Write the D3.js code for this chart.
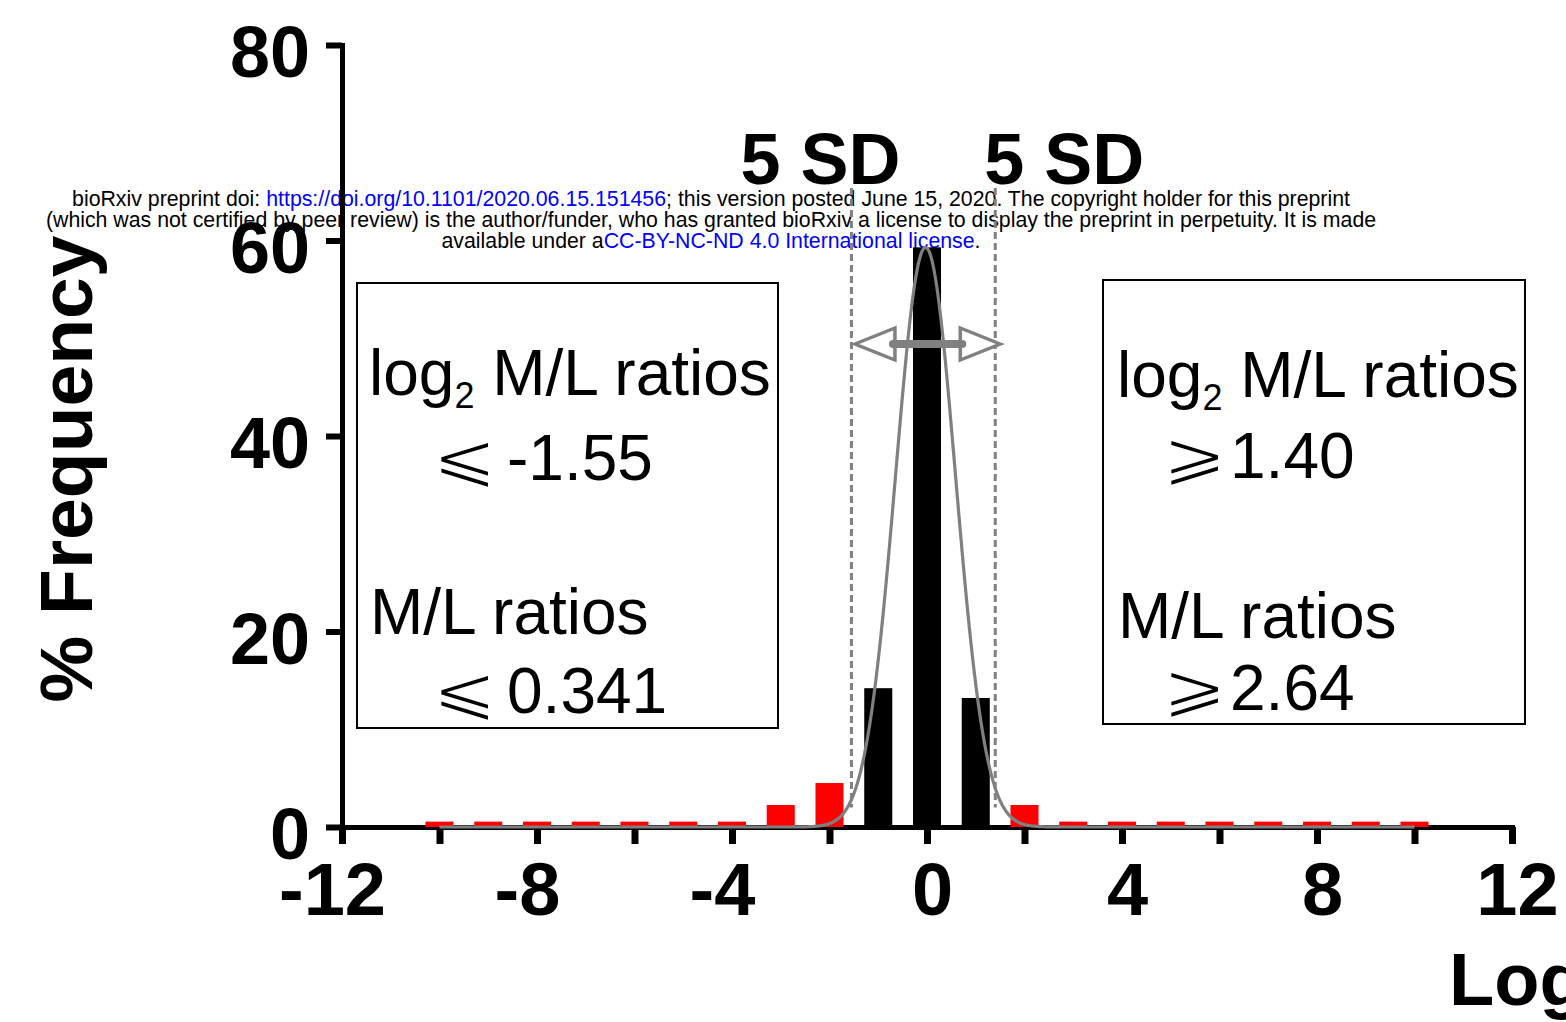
<!DOCTYPE html>
<html>
<head>
<meta charset="utf-8">
<script src="https://cdn.jsdelivr.net/npm/d3@7/dist/d3.min.js"></script>
<style>
  html, body { margin: 0; padding: 0; background: #fff; }
  svg { display: block; }
  text { font-family: "Liberation Sans", Arial, Helvetica, sans-serif; }
</style>
</head>
<body>
<svg id="chart" width="1566" height="1022"></svg>
<script>
// Histogram bins (log2 M/L ratio, bin centre) and % frequency per bin
const binCenters = [-10, -9, -8, -7, -6, -5, -4, -3, -2, -1, 0, 1, 2, 3, 4, 5, 6, 7, 8, 9, 10];
const binFreq    = [0.55, 0.55, 0.55, 0.55, 0.55, 0.55, 0.55, 2.25, 4.5, 14.2, 59.3, 13.2, 2.25,
                    0.55, 0.55, 0.55, 0.55, 0.55, 0.55, 0.55, 0.55];

// Gaussian fit to the central peak
const fitAmplitude = 59.3;
const fitMean = -0.03;
const fitSD = 0.615;
const fitRange = [-10, 10];

// 5 SD cut-offs (log2 M/L)
const sdCutoffs = [-1.55, 1.40];

// Axes
const xTicks = [-12, -10, -8, -6, -4, -2, 0, 2, 4, 6, 8, 10, 12];
const xLabelled = [-12, -8, -4, 0, 4, 8, 12];
const yTicks = [0, 20, 40, 60, 80];

// Box annotations
const leftBoxLines  = ["M/L ratios", "-1.55", "0.341"];
const rightBoxLines = ["M/L ratios", "1.40", "2.64"];

const svg = d3.select("#chart");
const W = 1566, H = 1022;
const FONT = '"Liberation Sans", Arial, Helvetica, sans-serif';
const GREY = "#808080";

svg.append("rect").attr("width", W).attr("height", H).attr("fill", "#fff");

const x = d3.scaleLinear().domain([-12, 12]).range([342, 1512]);
const y = d3.scaleLinear().domain([0, 80]).range([827, 45]);

// ---- preprint header ----
const hdr = svg.append("g").attr("font-size", 21.3).attr("text-anchor", "middle").attr("fill", "#000");
const h1 = hdr.append("text").attr("x", 711).attr("y", 206);
h1.append("tspan").text("bioRxiv preprint doi: ");
h1.append("tspan").attr("fill", "#0000ff").text("https://doi.org/10.1101/2020.06.15.151456");
h1.append("tspan").text("; this version posted June 15, 2020. The copyright holder for this preprint");
hdr.append("text").attr("x", 711).attr("y", 227)
  .text("(which was not certified by peer review) is the author/funder, who has granted bioRxiv a license to display the preprint in perpetuity. It is made");
const h3 = hdr.append("text").attr("x", 711).attr("y", 248);
h3.append("tspan").text("available under a");
h3.append("tspan").attr("fill", "#0000ff").text("CC-BY-NC-ND 4.0 International license");
h3.append("tspan").text(".");

// ---- axes ----
const yAxis = svg.append("g").attr("transform", `translate(${x(-12)},0)`)
  .call(d3.axisLeft(y).tickValues(yTicks).tickSize(16).tickSizeOuter(0).tickPadding(16));
yAxis.select(".domain").attr("stroke", "#000").attr("stroke-width", 5).attr("stroke-linecap", "square");
yAxis.selectAll(".tick line").attr("stroke", "#000").attr("stroke-width", 6);
yAxis.selectAll(".tick text").attr("font-family", FONT).attr("font-weight", "bold")
  .attr("font-size", 72).attr("fill", "#000").attr("dy", "0.44em");

const xAxis = svg.append("g").attr("transform", `translate(0,${y(0)})`)
  .call(d3.axisBottom(x).tickValues(xTicks).tickSize(17).tickSizeOuter(0).tickPadding(18)
    .tickFormat(d => xLabelled.includes(d) ? String(d) : ""));
xAxis.select(".domain").attr("stroke", "#000").attr("stroke-width", 5).attr("stroke-linecap", "square");
xAxis.selectAll(".tick line").attr("stroke", "#000").attr("stroke-width", 7);
xAxis.selectAll(".tick text").attr("font-family", FONT).attr("font-weight", "bold")
  .attr("font-size", 74).attr("fill", "#000").attr("dx", d => d < 0 ? -10 : 5);

// axis titles
svg.append("text").attr("transform", "translate(92,469) rotate(-90)")
  .attr("text-anchor", "middle").attr("font-weight", "bold").attr("font-size", 75)
  .text("% Frequency");
const xt = svg.append("text").attr("x", 1449).attr("y", 1005)
  .attr("font-weight", "bold").attr("font-size", 74);
xt.append("tspan").text("Log");
xt.append("tspan").attr("font-size", 44).attr("dy", 14).text("2");
xt.append("tspan").attr("dy", -14).text(" M/L ratios");

// ---- bars ----
const barW = x(0.575) - x(0);
const bins = binCenters.map((c, i) => ({ c, v: binFreq[i] }));
svg.append("g").selectAll("rect").data(bins).join("rect")
  .attr("x", d => x(d.c) - barW / 2)
  .attr("y", d => y(d.v))
  .attr("width", barW)
  .attr("height", d => y(0) - y(d.v))
  .attr("fill", d => (d.c < sdCutoffs[0] || d.c > sdCutoffs[1]) ? "#ff0000" : "#000");

// ---- Gaussian fit curve ----
const gauss = t => fitAmplitude * Math.exp(-((t - fitMean) ** 2) / (2 * fitSD * fitSD));
const fitPts = d3.range(fitRange[0], fitRange[1] + 0.001, 0.02).map(t => [t, gauss(t)]);
svg.append("path").datum(fitPts)
  .attr("d", d3.line().x(d => x(d[0])).y(d => y(d[1])).curve(d3.curveBasis))
  .attr("fill", "none").attr("stroke", GREY).attr("stroke-width", 3.2);

// ---- 5 SD dashed lines ----
svg.append("g").selectAll("line").data(sdCutoffs).join("line")
  .attr("x1", d => x(d)).attr("x2", d => x(d))
  .attr("y1", 188).attr("y2", y(2.0))
  .attr("stroke", GREY).attr("stroke-width", 3).attr("stroke-dasharray", "7,4");

svg.append("g").attr("font-weight", "bold").attr("font-size", 72).attr("text-anchor", "middle")
  .selectAll("text").data(sdCutoffs).join("text")
  .attr("x", (d, i) => i === 0 ? x(d) - 31 : x(d) + 69)
  .attr("y", 184)
  .text("5 SD");

// ---- double arrow spanning the cut-offs ----
const ay = 344;
const xl = x(sdCutoffs[0]) + 3.5, xr = x(sdCutoffs[1]) + 5;
const headL = 40, headH = 16;
const arrow = svg.append("g");
arrow.append("path")
  .attr("d", `M${xl},${ay} L${xl + headL},${ay - headH} L${xl + headL},${ay + headH} Z`)
  .attr("fill", "#fff").attr("stroke", GREY).attr("stroke-width", 3.5).attr("stroke-linejoin", "miter");
arrow.append("path")
  .attr("d", `M${xr},${ay} L${xr - headL},${ay - headH} L${xr - headL},${ay + headH} Z`)
  .attr("fill", "#fff").attr("stroke", GREY).attr("stroke-width", 3.5).attr("stroke-linejoin", "miter");
arrow.append("line")
  .attr("x1", xl + headL - 2).attr("x2", xr - headL + 2).attr("y1", ay).attr("y2", ay)
  .attr("stroke", GREY).attr("stroke-width", 8).attr("stroke-linecap", "round");

// ---- annotation boxes ----
const BOX_FS = 64;
function box(bx, by, bw, bh, tx, base1, sym, symX, valX, lines, bases) {
  const g = svg.append("g");
  g.append("rect").attr("x", bx).attr("y", by).attr("width", bw).attr("height", bh)
    .attr("fill", "none").attr("stroke", "#000").attr("stroke-width", 2);
  const t1 = g.append("text").attr("x", tx).attr("y", base1).attr("font-size", BOX_FS);
  t1.append("tspan").text("log");
  t1.append("tspan").attr("font-size", 36).attr("dy", 13).text("2");
  t1.append("tspan").attr("dy", -13).text(" " + lines[0]);
  // threshold lines: slanted comparison sign (thin, slightly widened) + value
  [[lines[1], bases[0]], [lines[2], bases[2]]].forEach(([v, b]) => {
    g.append("text").attr("transform", `translate(${symX},${b}) scale(1.18,1)`)
      .attr("font-size", 66).attr("font-family", '"DejaVu Sans", sans-serif')
      .attr("stroke", "#fff").attr("stroke-width", 1.8)
      .text(sym);
    g.append("text").attr("x", valX).attr("y", b).attr("font-size", BOX_FS).text(v);
  });
  g.append("text").attr("x", tx + 1).attr("y", bases[1]).attr("font-size", BOX_FS).text(lines[0]);
}
box(357, 283, 421, 445, 369, 395, "\u2A7D", 432, 507, leftBoxLines, [480, 634, 713]);
box(1103, 280, 422, 444, 1117, 397, "\u2A7E", 1162, 1230, rightBoxLines, [478, 638, 710]);
</script>
</body>
</html>
